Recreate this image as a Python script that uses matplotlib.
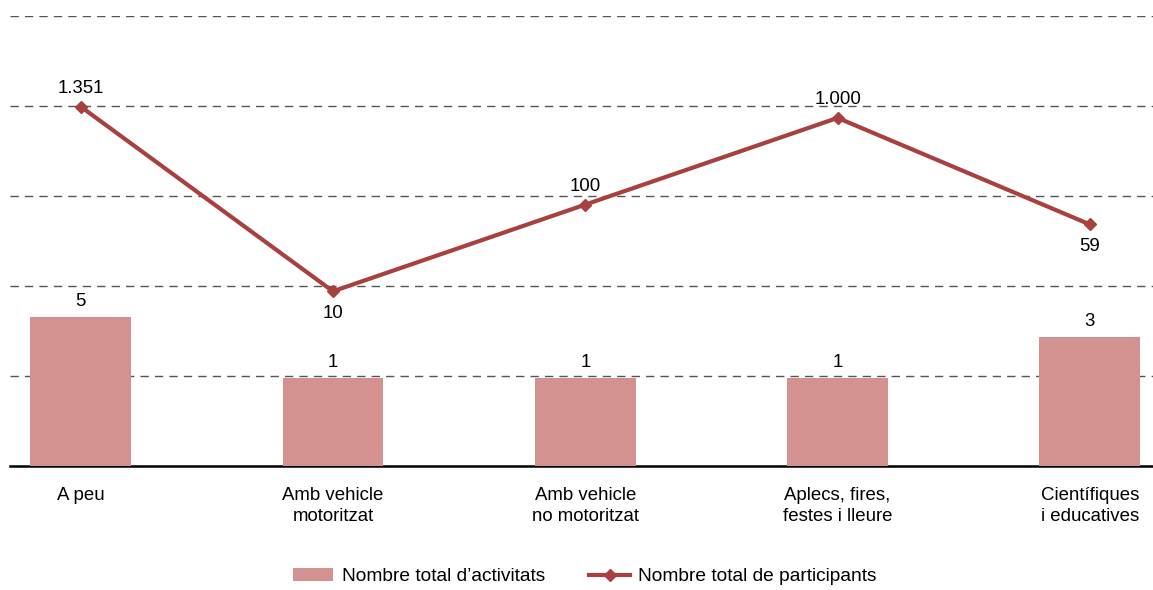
import matplotlib.pyplot as plt

categories = ["A peu", "Amb vehicle\nmotoritzat", "Amb vehicle\nno motoritzat",
              "Aplecs, fires,\nfestes i lleure", "Científiques\ni educatives"]
activitats = [5, 1, 1, 1, 3]
participants = [1351, 10, 100, 1000, 59]
label_below = [False, True, False, False, True]

bar_color = "#d39290"
line_color = "#a8403f"

plt.rcParams["font.family"] = ["Liberation Sans", "DejaVu Sans"]
fs = 13.4

fig = plt.figure(figsize=(11.53, 5.90), dpi=100)
ax = fig.add_axes([10 / 1153, 124 / 590, 1 - 10 / 1153, 450 / 590])

# background grid: five equal bands
ax.set_ylim(0, 5)
ax.set_yticks(range(1, 6))
ax.yaxis.grid(True, linestyle=(0, (6.0, 4.4)), color="#555555", linewidth=1.0)
ax.tick_params(axis="y", which="both", length=0, left=False, right=False,
               labelleft=False)
for s in ["top", "right", "left"]:
    ax.spines[s].set_visible(False)
ax.spines["bottom"].set_linewidth(1.8)
ax.spines["bottom"].set_color("black")

x = range(len(categories))
ax.set_xticks(list(x))
ax.set_xticklabels(categories, fontsize=fs, linespacing=1.3)
ax.tick_params(axis="x", length=0, pad=15)
ax.set_xlim(-0.28, 4.25)

# data on a shared log scale
ax2 = ax.twinx()
ax2.set_yscale("log")
ax2.set_ylim(0.0966, 14970)
ax2.axis("off")

line, = ax2.plot(list(x), participants, color=line_color, linewidth=3, marker="D",
                 markersize=6, zorder=3, label="Nombre total de participants")
bars = ax2.bar(x, activitats, width=0.4, color=bar_color, zorder=2,
               label="Nombre total d\u2019activitats")
for xi, v in zip(x, activitats):
    ax2.annotate(str(v), (xi, v), xytext=(0, 5), textcoords="offset points",
                 ha="center", va="bottom", fontsize=fs)

for xi, v, below in zip(x, participants, label_below):
    txt = f"{v:,}".replace(",", ".")
    if below:
        ax2.annotate(txt, (xi, v), xytext=(0, -10), textcoords="offset points",
                     ha="center", va="top", fontsize=fs)
    else:
        ax2.annotate(txt, (xi, v), xytext=(0, 7), textcoords="offset points",
                     ha="center", va="bottom", fontsize=fs)

fig.legend([bars, line], [bars.get_label(), line.get_label()], loc="center",
           bbox_to_anchor=(585 / 1153, 12 / 590 + 0.002), ncol=2, frameon=False,
           fontsize=13.8, handlelength=2.1, handleheight=0.65,
           columnspacing=2.3, handletextpad=0.45)

fig.savefig("out.png", dpi=100)
